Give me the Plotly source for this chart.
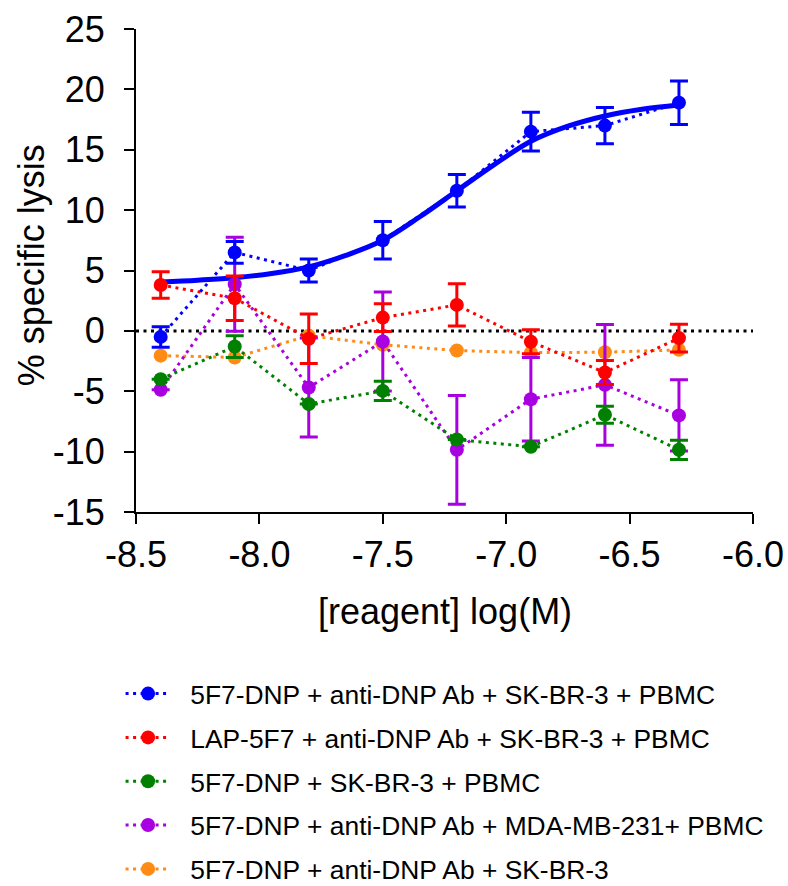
import plotly.graph_objects as go

# ---- data ----
log_conc = [-8.4, -8.1, -7.8, -7.5, -7.2, -6.9, -6.6, -6.3]

blue_y = [-0.5, 6.5, 5.0, 7.5, 11.6, 16.5, 17.0, 18.9]
blue_err = [0.85, 0.9, 0.95, 1.55, 1.35, 1.6, 1.5, 1.8]

red_y = [3.8, 2.7, -0.65, 1.1, 2.15, -0.9, -3.45, -0.6]
red_err = [1.1, 1.85, 2.05, 1.15, 1.75, 1.0, 1.0, 1.15]

green_y = [-4.0, -1.3, -6.05, -4.97, -9.0, -9.6, -6.95, -9.85]
green_err = [None, 0.9, None, 0.8, None, None, 0.7, 0.8]

purple_y = [-4.88, 3.86, -4.69, -0.88, -9.85, -5.66, -4.47, -7.0]
purple_err = [None, 3.9, 4.1, 4.1, 4.5, 3.45, 5.0, 2.95]

orange_y = [-2.05, -2.2, -0.4, -1.15, -1.63, -1.8, -1.77, -1.57]
orange_err = [None] * 8

# fitted sigmoid for the blue series
fit_x = [-8.4, -8.25, -8.1, -7.95, -7.8, -7.65, -7.5, -7.35, -7.2, -7.05, -6.9, -6.75, -6.6, -6.45, -6.3]
fit_y = [4.05, 4.2, 4.4, 4.75, 5.3, 6.25, 7.5, 9.45, 11.6, 13.75, 15.7, 16.95, 17.8, 18.35, 18.7]

series_names = [
    "5F7-DNP + anti-DNP Ab + SK-BR-3 + PBMC",
    "LAP-5F7 + anti-DNP Ab + SK-BR-3 + PBMC",
    "5F7-DNP + SK-BR-3 + PBMC",
    "5F7-DNP + anti-DNP Ab + MDA-MB-231+ PBMC",
    "5F7-DNP + anti-DNP Ab + SK-BR-3",
]
x_ticks = [-8.5, -8.0, -7.5, -7.0, -6.5, -6.0]
x_ticktext = ["-8.5", "-8.0", "-7.5", "-7.0", "-6.5", "-6.0"]
y_ticks = [-15, -10, -5, 0, 5, 10, 15, 20, 25]
y_ticktext = ["-15", "-10", "-5", "0", "5", "10", "15", "20", "25"]
x_title = "[reagent] log(M)"
y_title = "% specific lysis"

colors = ["#0000FF", "#FF0000", "#008000", "#A800E0", "#FF8A14"]

FONT = "Liberation Sans, Arial, sans-serif"

fig = go.Figure()

# fitted curve (drawn first, underneath)
fig.add_trace(go.Scatter(
    x=fit_x, y=fit_y, mode="lines", line=dict(color=colors[0], width=5, shape="spline"),
    showlegend=False, hoverinfo="skip"))

all_y = [blue_y, red_y, green_y, purple_y, orange_y]
all_err = [blue_err, red_err, green_err, purple_err, orange_err]
draw_order = [4, 3, 2, 1, 0]  # orange bottom ... blue top
for i in draw_order:
    err = all_err[i]
    has_err = any(e is not None for e in err)
    fig.add_trace(go.Scatter(
        x=log_conc, y=all_y[i], mode="lines+markers",
        name="\u00a0\u00a0" + series_names[i],
        legendrank=i + 1, legendgroup=f"g{i}",
        line=dict(color=colors[i], width=3, dash="3px,4.5px"),
        marker=dict(color=colors[i], size=14),
        error_y=dict(type="data", array=err, visible=has_err, color=colors[i],
                     thickness=3, width=9),
    ))

fig.add_shape(type="line", xref="paper", yref="y", x0=0, x1=1, y0=0, y1=0,
              line=dict(color="black", width=3, dash="3px,4.5px"), layer="below")

fig.add_annotation(text=y_title, xref="paper", yref="paper", x=-0.170, y=0.511,
                   textangle=-90, showarrow=False, xanchor="center", yanchor="middle",
                   font=dict(size=36, family=FONT, color="black"))
fig.add_annotation(text=x_title, xref="paper", yref="paper", x=0.5, y=-0.205,
                   showarrow=False, xanchor="center", yanchor="middle",
                   font=dict(size=36, family=FONT, color="black"))

fig.update_layout(
    width=788, height=886,
    margin=dict(l=136, r=35, t=29, b=374, autoexpand=False),
    paper_bgcolor="white", plot_bgcolor="white",
    font=dict(family=FONT, color="black"),
    showlegend=True,
    legend=dict(x=-0.025, xanchor="left", y=-0.327, yanchor="top",
                font=dict(size=26.4, family=FONT), tracegroupgap=6.5,
                itemwidth=45, bgcolor="rgba(0,0,0,0)"),
    xaxis=dict(range=[-8.5, -6.0], tickvals=x_ticks, ticktext=x_ticktext, automargin=False,
               showgrid=False, zeroline=False, showline=True, linecolor="black", linewidth=2,
               ticks="outside", ticklen=10, tickwidth=2, tickcolor="black",
               tickfont=dict(size=36, family=FONT)),
    yaxis=dict(range=[-15, 25], tickvals=y_ticks, ticktext=y_ticktext, automargin=False,
               showgrid=False, zeroline=False, showline=True, linecolor="black", linewidth=2,
               ticks="outside", ticklen=10, tickwidth=2, tickcolor="black",
               ticklabelstandoff=12,
               tickfont=dict(size=36, family=FONT)),
)

fig.write_html(
    "out.html",
    config={"displayModeBar": False},
    post_script="document.body.style.margin='0';document.body.style.overflow='hidden';",
)
